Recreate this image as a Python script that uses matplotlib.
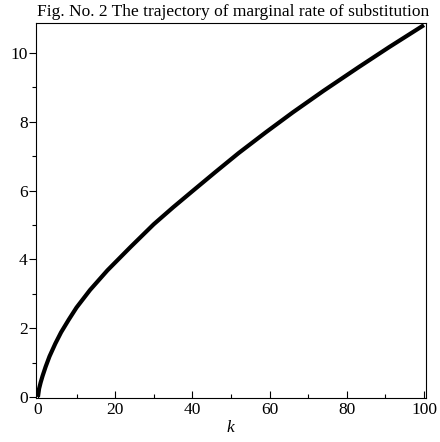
import matplotlib
matplotlib.use("Agg")
import matplotlib.pyplot as plt
from matplotlib.ticker import MultipleLocator

plt.rcParams['font.family'] = ['Liberation Serif', 'DejaVu Serif']

k_values = [0, 0.3, 0.7, 1.2, 2.0, 3.0, 4.5, 6.0, 8.0, 10.0, 13.5, 18.0,
            24.0, 30.0, 35.0, 40.0, 46.0, 52.0, 59.0, 66.0, 74.0, 83.0, 91.0, 100.0]
mrs_values = [0, 0.24, 0.42, 0.61, 0.88, 1.18, 1.55, 1.88, 2.25, 2.60, 3.11, 3.68,
              4.36, 5.02, 5.51, 5.98, 6.54, 7.09, 7.69, 8.27, 8.90, 9.58, 10.17, 10.81]

title_text = "Fig. No. 2 The trajectory of marginal rate of substitution"
x_label = "k"

fig = plt.figure(figsize=(4.40, 4.42), dpi=100)
ax = fig.add_axes([36/440, 1-398/442, (425.5-36)/440, (398-23)/442])

ax.plot(k_values, mrs_values, color='black', lw=3.0, solid_joinstyle='round',
        solid_capstyle='butt')

ax.set_xlim(-0.5, 100.4)
ax.set_ylim(-0.03, 10.87)

ax.xaxis.set_major_locator(MultipleLocator(20))
ax.xaxis.set_minor_locator(MultipleLocator(10))
ax.yaxis.set_major_locator(MultipleLocator(2))
ax.yaxis.set_minor_locator(MultipleLocator(1))

ax.tick_params(axis='x', which='major', direction='in', length=5, width=0.8, labelsize=12.5, pad=3)
ax.tick_params(axis='x', which='minor', direction='in', length=3, width=0.8)
ax.tick_params(axis='y', which='major', direction='out', length=5, width=0.8, labelsize=12.5, pad=1)
ax.tick_params(axis='y', which='minor', direction='out', length=3, width=0.8)

for s in ax.spines.values():
    s.set_linewidth(0.8)

ax.set_xlabel(x_label, fontstyle='italic', fontsize=12.5, labelpad=1)
fig.text(233/440, 1-12/442, title_text, ha='center', va='center', fontsize=12.5)

fig.savefig("out.png", dpi=100)
